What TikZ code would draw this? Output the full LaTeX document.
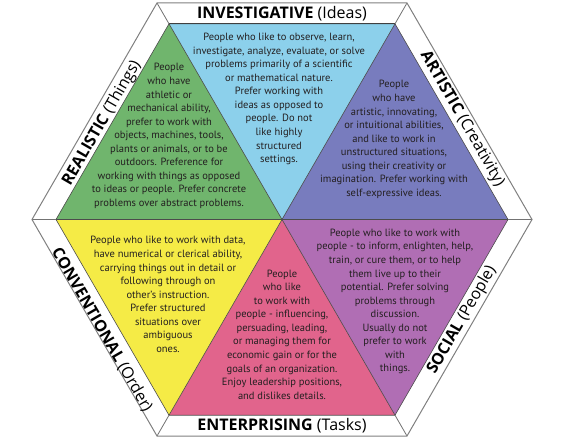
\documentclass[tikz,border=0pt]{standalone}
\usepackage{fontspec}
\setmainfont{PT Sans}
\newfontfamily\rimfont{Open Sans}
\definecolor{invblue}{HTML}{8CD0EB}
\definecolor{artblue}{HTML}{787CBE}
\definecolor{socpurple}{HTML}{B06EB4}
\definecolor{entpink}{HTML}{E1648C}
\definecolor{conyellow}{HTML}{F5EB46}
\definecolor{realgreen}{HTML}{70B56D}
\definecolor{inkgray}{HTML}{231F20}
\begin{document}
\begin{tikzpicture}[x=1pt,y=-1pt,
  body/.style={align=center,text=inkgray,inner sep=0pt,
    font=\fontsize{10.5}{13.55}\selectfont},
  bandlabel/.style={text=black,inner sep=0pt,
    font=\rimfont\fontsize{16}{18}\selectfont},
  divider/.style={draw=black!70,line width=0.6pt},
  rim/.style={draw=black!50,line width=1pt,line join=miter},
  corner/.style={draw=black!55,line width=0.8pt}]
\useasboundingbox (0,0) rectangle (561,444);

% hexagon vertices: outer rim and inner coloured hexagon
\coordinate (C) at (282,219.5);
\coordinate (o1) at (157,3);
\coordinate (o2) at (407,3);
\coordinate (o3) at (532,219.5);
\coordinate (o4) at (407,436);
\coordinate (o5) at (157,436);
\coordinate (o6) at (32,219.5);
\coordinate (i1) at (169,23.8);
\coordinate (i2) at (395,23.8);
\coordinate (i3) at (508,219.5);
\coordinate (i4) at (395,415.2);
\coordinate (i5) at (169,415.2);
\coordinate (i6) at (56,219.5);

\fill[white] (o1)--(o2)--(o3)--(o4)--(o5)--(o6)--cycle;

% six coloured sectors
\fill[invblue]    (C)--(i1)--(i2)--cycle;
\fill[artblue]    (C)--(i2)--(i3)--cycle;
\fill[socpurple]  (C)--(i3)--(i4)--cycle;
\fill[entpink]    (C)--(i4)--(i5)--cycle;
\fill[conyellow]  (C)--(i5)--(i6)--cycle;
\fill[realgreen]  (C)--(i6)--(i1)--cycle;

\draw[divider] (i1)--(i4) (i2)--(i5) (i3)--(i6);
\draw[divider] (i1)--(i2)--(i3)--(i4)--(i5)--(i6)--cycle;
\draw[draw=black!75,line width=1.3pt] (i1)--(i2);
\draw[corner] (o1)--(i1) (o2)--(i2) (o3)--(i3) (o4)--(i4) (o5)--(i5) (o6)--(i6);
\draw[rim] (o1)--(o2)--(o3)--(o4)--(o5)--(o6)--cycle;

% rim labels
\node[bandlabel] (lInv) at (282,13.5) {\textbf{INVESTIGATIVE} (Ideas)};
\node[bandlabel,rotate=-60] (lArt) at (462,119) {\textbf{ARTISTIC} (Creativity)};
\node[bandlabel,rotate=60] (lSoc) at (462,320) {\textbf{SOCIAL} (People)};
\node[bandlabel] (lEnt) at (282,425.5) {\textbf{ENTERPRISING} (Tasks)};
\node[bandlabel,rotate=-60] (lCon) at (102,330) {\textbf{CONVENTIONAL} (Order)};
\node[bandlabel,rotate=60] (lReal) at (102,123) {\textbf{REALISTIC} (Things)};

% sector descriptions
\node[body] (tInv) at (279,99) {People who like to observe, learn,\\
investigate, analyze, evaluate, or solve\\
problems primarily of a scientific\\
or mathematical nature.\\
Prefer working with\\
ideas as opposed to\\
people. Do not\\
like highly\\
structured\\
settings.};

\node[body] (tArt) at (394,139.5) {People\\
who have\\
artistic, innovating,\\
or intuitional abilities,\\
and like to work in\\
unstructured situations,\\
using their creativity or\\
imagination. Prefer working with\\
self-expressive ideas.};

\node[body] (tSoc) at (395,301.5) {People who like to work with\\
people - to inform, enlighten, help,\\
train, or cure them, or to help\\
them live up to their\\
potential. Prefer solving\\
problems through\\
discussion.\\
Usually do not\\
prefer to work\\
with\\
things.};

\node[body] (tEnt) at (282,334.5) {People\\
who like\\
to work with\\
people - influencing,\\
persuading, leading,\\
or managing them for\\
economic gain or for the\\
goals of an organization.\\
Enjoy leadership positions,\\
and dislikes details.};

\node[body] (tCon) at (168,294.5) {People who like to work with data,\\
have numerical or clerical ability,\\
carrying things out in detail or\\
following through on\\
other's instruction.\\
Prefer structured\\
situations over\\
ambiguous\\
ones.};

\node[body] (tReal) at (169,136) {People\\
who have\\
athletic or\\
mechanical ability,\\
prefer to work with\\
objects, machines, tools,\\
plants or animals, or to be\\
outdoors. Preference for\\
working with things as opposed\\
to ideas or people. Prefer concrete\\
problems over abstract problems.};
\end{tikzpicture}
\end{document}
